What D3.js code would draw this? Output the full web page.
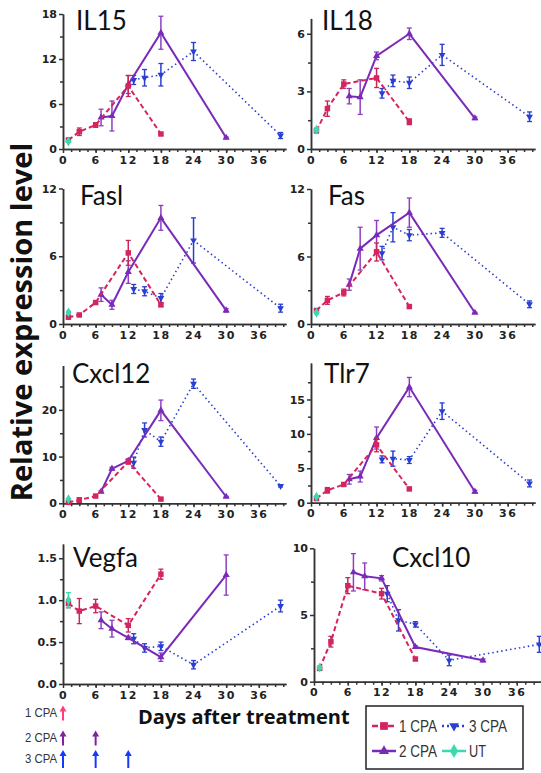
<!DOCTYPE html>
<html>
<head>
<meta charset="utf-8">
<script src="https://cdn.jsdelivr.net/npm/d3@7"></script>
<style>
    body { margin: 0; background: #fff; }
    .axis path, .axis line { stroke: #333; stroke-width: 1.5; }
    .axis text { font-family: "DejaVu Sans", sans-serif; font-weight: bold; font-size: 11px; fill: #222; }
    .xaxis text { letter-spacing: 1.5px; }
    .minor text { display: none; }
    .gene { font-family: Lato, sans-serif; font-size: 26px; fill: #111; }
    .axisLabel { font-family: "Open Sans", sans-serif; font-weight: bold; fill: #111; }
    .narrow { font-family: "Liberation Sans", sans-serif; fill: #333; }
</style>
</head>
<body>
<div id="chart"></div>
<script>
// sampling days of each group
const days1CPA = [1, 3, 6, 12, 18];
const days2CPA = [7, 9, 12, 18, 30];
const days3CPA = [13, 15, 18, 24, 40];
const daysUT = [1];
// days the CPA doses were given
const dose1CPA = [0];
const dose2CPA = [0, 6];
const dose3CPA = [0, 6, 12];

const genes = ["IL15", "IL18", "Fasl", "Fas", "Cxcl12", "Tlr7", "Vegfa", "Cxcl10"];

// [mean, error] per sampling day
const il15_1 = [[1.2, 0.2], [2.3, 0.5], [3.2, 0.3], [8.4, 1.4], [2.0, 0.15]];
const il15_2 = [[4.2, 1.1], [4.4, 2.0], [8.6, 1.2], [15.5, 2.2], [1.5, 0.1]];
const il15_3 = [[9.2, 0.6], [9.5, 1.1], [9.9, 1.5], [13.0, 1.2], [1.8, 0.4]];
const il15_ut = [[1.0, 0.1]];

const il18_1 = [[0.95, 0.1], [2.1, 0.4], [3.38, 0.22], [3.7, 0.5], [1.42, 0.15]];
const il18_2 = [[2.75, 0.4], [2.7, 0.9], [4.85, 0.2], [6.0, 0.3], [1.6, 0.07]];
const il18_3 = [[2.9, 0.25], [3.55, 0.3], [3.45, 0.3], [4.9, 0.55], [1.68, 0.25]];
const il18_ut = [[1.0, 0.1]];

const fasl_1 = [[0.6, 0.05], [0.8, 0.05], [1.9, 0.1], [6.3, 1.1], [1.7, 0.15]];
const fasl_2 = [[2.6, 0.6], [1.7, 0.4], [4.6, 1.0], [9.4, 1.1], [1.2, 0.15]];
const fasl_3 = [[3.1, 0.4], [2.9, 0.4], [2.3, 0.4], [7.4, 2.0], [1.4, 0.35]];
const fasl_ut = [[1.03, 0.1]];

const fas_1 = [[1.2, 0.1], [2.1, 0.35], [2.8, 0.3], [6.4, 0.8], [1.55, 0.1]];
const fas_2 = [[3.5, 0.5], [6.7, 1.9], [7.9, 1.3], [9.9, 1.3], [1.0, 0.05]];
const fas_3 = [[6.3, 0.6], [8.6, 1.3], [7.9, 0.5], [8.1, 0.4], [1.75, 0.3]];
const fas_ut = [[1.0, 0.1]];

const cxcl12_1 = [[0.2, 0.1], [0.7, 0.5], [1.55, 0.2], [8.9, 0.5], [0.9, 0.2]];
const cxcl12_2 = [[2.5, 0.2], [7.4, 0.3], [9.1, 0.4], [19.9, 2.2], [1.4, 0.1]];
const cxcl12_3 = [[8.7, 1.2], [15.7, 1.5], [13.2, 1.0], [25.6, 1.0], [3.7, 0.2]];
const cxcl12_ut = [[0.9, 0.1]];

const tlr7_1 = [[0.6, 0.1], [1.8, 0.4], [2.65, 0.2], [8.4, 1.0], [2.0, 0.2]];
const tlr7_2 = [[3.4, 0.7], [3.8, 0.8], [9.4, 1.6], [16.8, 1.4], [1.6, 0.2]];
const tlr7_3 = [[6.3, 0.5], [6.4, 1.1], [6.2, 0.5], [13.3, 1.2], [2.8, 0.5]];
const tlr7_ut = [[0.87, 0.1]];

const vegfa_1 = [[0.96, 0.05], [0.87, 0.15], [0.93, 0.08], [0.7, 0.08], [1.31, 0.06]];
const vegfa_2 = [[0.76, 0.1], [0.66, 0.1], [0.55, 0.02], [0.32, 0.05], [1.3, 0.24]];
const vegfa_3 = [[0.54, 0.06], [0.43, 0.05], [0.45, 0.05], [0.23, 0.05], [0.93, 0.07]];
const vegfa_ut = [[1.0, 0.09]];

const cxcl10_1 = [[1.0, 0.05], [3.0, 0.4], [7.2, 0.6], [6.6, 0.4], [1.7, 0.1]];
const cxcl10_2 = [[8.2, 1.4], [7.9, 1.0], [7.75, 0.2], [2.6, 0.1], [1.6, 0.1]];
const cxcl10_3 = [[6.6, 0.6], [4.6, 0.8], [4.3, 0.2], [1.6, 0.4], [2.8, 0.6]];
const cxcl10_ut = [[1.05, 0.1]];

const geneData = {
    IL15: [il15_1, il15_2, il15_3, il15_ut],
    IL18: [il18_1, il18_2, il18_3, il18_ut],
    Fasl: [fasl_1, fasl_2, fasl_3, fasl_ut],
    Fas: [fas_1, fas_2, fas_3, fas_ut],
    Cxcl12: [cxcl12_1, cxcl12_2, cxcl12_3, cxcl12_ut],
    Tlr7: [tlr7_1, tlr7_2, tlr7_3, tlr7_ut],
    Vegfa: [vegfa_1, vegfa_2, vegfa_3, vegfa_ut],
    Cxcl10: [cxcl10_1, cxcl10_2, cxcl10_3, cxcl10_ut]
};

// y axis settings (max, major ticks, minor ticks)
const yMax = [18, 6.8, 12, 12, 29.5, 20.3, 1.67, 10];
const yMajor = [[0, 6, 12, 18], [0, 3, 6], [0, 6, 12], [0, 6, 12], [0, 10, 20], [0, 5, 10, 15], [0, 0.5, 1, 1.5], [0, 5, 10]];
const yMinor = [[3, 9, 15], [1.5, 4.5], [3, 9], [3, 9], [5, 15, 25], [2.5, 7.5, 12.5, 17.5], [0.25, 0.75, 1.25], [2.5, 7.5]];
const xMajor = [0, 6, 12, 18, 24, 30, 36];

// panel placement on the page
const panels = [
    { x0: 63, x1: 286, yb: 149, yt: 14, tx: 76, ty: 30 },
    { x0: 311, x1: 535, yb: 149, yt: 18.4, tx: 322, ty: 30 },
    { x0: 63, x1: 286, yb: 324, yt: 188.5, tx: 80, ty: 205 },
    { x0: 311, x1: 535, yb: 324, yt: 189, tx: 328, ty: 205 },
    { x0: 63, x1: 286, yb: 503.3, yt: 365.5, tx: 72, ty: 383 },
    { x0: 311, x1: 535, yb: 502.7, yt: 363, tx: 324, ty: 383 },
    { x0: 63, x1: 286, yb: 684, yt: 544, tx: 73, ty: 567 },
    { x0: 314, x1: 541, yb: 681.7, yt: 548.3, tx: 392, ty: 567 }
];

const width = 541;
const height = 773;

const svg = d3.select("#chart")
    .append("svg")
    .attr("width", width)
    .attr("height", height);

// style of each group: color, dash, marker
const groups = [
    { name: "1 CPA", days: days1CPA, color: "#d6245e", bar: "#c4285a", dash: "5,3", width: 2, symbol: d3.symbolSquare, size: 30, rot: 0 },
    { name: "2 CPA", days: days2CPA, color: "#7a2ab8", bar: "#8d3fc0", dash: null, width: 2, symbol: d3.symbolTriangle, size: 22, rot: 0 },
    { name: "3 CPA", days: days3CPA, color: "#2a3fd0", bar: "#2a3fd0", dash: "1.5,3", width: 1.6, symbol: d3.symbolTriangle, size: 20, rot: 180 },
    { name: "UT", days: daysUT, color: "#3ad9b0", bar: "#3ad9b0", dash: null, width: 2, symbol: d3.symbolDiamond, size: 28, rot: 0 }
];
const drawOrder = [2, 1, 0, 3];

genes.forEach(function (gene, gi) {
    const p = panels[gi];
    const g = svg.append("g");

    const xScale = d3.scaleLinear()
        .domain([0, p.x1 === 541 ? 40.3 : 41])
        .range([p.x0, p.x1]);

    const yScale = d3.scaleLinear()
        .domain([0, yMax[gi]])
        .range([p.yb, p.yt]);

    const fmt = gene === "Vegfa" ? d3.format(".1f") : d3.format("d");

    // minor ticks first
    g.append("g").attr("class", "axis minor")
        .attr("transform", `translate(0,${p.yb})`)
        .call(d3.axisBottom(xScale).tickValues(d3.range(1.5, 41, 1.5)).tickSize(3).tickSizeOuter(0));
    g.append("g").attr("class", "axis minor")
        .attr("transform", `translate(${p.x0},0)`)
        .call(d3.axisLeft(yScale).tickValues(yMinor[gi]).tickSize(3).tickSizeOuter(0));

    g.append("g").attr("class", "axis xaxis")
        .attr("transform", `translate(0,${p.yb})`)
        .call(d3.axisBottom(xScale).tickValues(xMajor).tickSize(4).tickSizeOuter(0).tickPadding(3));
    g.append("g").attr("class", "axis")
        .attr("transform", `translate(${p.x0},0)`)
        .call(d3.axisLeft(yScale).tickValues(yMajor[gi]).tickFormat(fmt).tickSize(4).tickSizeOuter(0).tickPadding(2));

    g.append("text")
        .attr("class", "gene")
        .attr("x", p.tx)
        .attr("y", p.ty)
        .text(gene);

    drawOrder.forEach(function (k) {
        const grp = groups[k];
        const vals = geneData[gene][k].map((v, i) => ({ day: grp.days[i], mean: v[0], err: v[1] }));

        const line = d3.line()
            .x(d => xScale(d.day))
            .y(d => yScale(d.mean));

        g.append("path")
            .datum(vals)
            .attr("d", line)
            .attr("fill", "none")
            .attr("stroke", grp.color)
            .attr("stroke-width", grp.width)
            .attr("stroke-dasharray", grp.dash);

        // error bars
        const bars = g.selectAll(null).data(vals).enter().append("g");
        bars.append("line")
            .attr("x1", d => xScale(d.day)).attr("x2", d => xScale(d.day))
            .attr("y1", d => yScale(d.mean - d.err)).attr("y2", d => yScale(d.mean + d.err))
            .attr("stroke", grp.bar).attr("stroke-width", 1.5);
        [-1, 1].forEach(function (s) {
            bars.append("line")
                .attr("x1", d => xScale(d.day) - 2.5).attr("x2", d => xScale(d.day) + 2.5)
                .attr("y1", d => yScale(d.mean + s * d.err)).attr("y2", d => yScale(d.mean + s * d.err))
                .attr("stroke", grp.bar).attr("stroke-width", 1.3);
        });

        // markers
        g.selectAll(null).data(vals).enter().append("path")
            .attr("d", d3.symbol().type(grp.symbol).size(grp.size))
            .attr("transform", d => `translate(${xScale(d.day)},${yScale(d.mean)}) rotate(${grp.rot})`)
            .attr("fill", grp.color);
    });
});

// axis titles
svg.append("text")
    .attr("class", "axisLabel")
    .attr("transform", "rotate(-90)")
    .attr("x", -322)
    .attr("y", 32)
    .attr("text-anchor", "middle")
    .attr("font-size", 29)
    .text("Relative expression level");

svg.append("text")
    .attr("class", "axisLabel")
    .attr("x", 138)
    .attr("y", 724)
    .attr("font-size", 20)
    .text("Days after treatment");

// dosing schedule arrows, placed on the day scale of the left panels
const doseScale = d3.scaleLinear().domain([0, 41]).range([63, 286]);
const doses = [
    { label: "1 CPA", days: dose1CPA, color: "#ff3c80", y: 713, len: 15 },
    { label: "2 CPA", days: dose2CPA, color: "#84209c", y: 738, len: 15 },
    { label: "3 CPA", days: dose3CPA, color: "#1638ff", y: 759, len: 18 }
];
doses.forEach(function (d) {
    svg.append("text")
        .attr("class", "narrow")
        .attr("x", 25)
        .attr("y", d.y + 4)
        .attr("font-size", 13)
        .attr("textLength", 32)
        .attr("lengthAdjust", "spacingAndGlyphs")
        .text(d.label);
    d.days.forEach(function (day) {
        const ax = doseScale(day);
        const top = d.y - d.len / 2;
        svg.append("line")
            .attr("x1", ax).attr("x2", ax)
            .attr("y1", top + 4).attr("y2", top + d.len)
            .attr("stroke", d.color).attr("stroke-width", 2);
        svg.append("path")
            .attr("d", `M${ax - 3.5},${top + 6} L${ax},${top} L${ax + 3.5},${top + 6} Z`)
            .attr("fill", d.color);
    });
});

// legend
const legend = svg.append("g");
legend.append("rect")
    .attr("x", 366).attr("y", 706)
    .attr("width", 157).attr("height", 63)
    .attr("fill", "#fff")
    .attr("stroke", "#222")
    .attr("stroke-width", 1.5);
const legendPos = [[372, 726], [372, 751], [442, 726], [442, 751]];
groups.forEach(function (grp, i) {
    const lx = legendPos[i][0];
    const ly = legendPos[i][1];
    legend.append("line")
        .attr("x1", lx).attr("x2", lx + 24)
        .attr("y1", ly).attr("y2", ly)
        .attr("stroke", grp.color)
        .attr("stroke-width", 2.5)
        .attr("stroke-dasharray", grp.dash ? (i === 2 ? "2,3" : "6,2") : null);
    legend.append("path")
        .attr("d", d3.symbol().type(grp.symbol).size(grp.size * 2))
        .attr("transform", `translate(${lx + 12},${ly}) rotate(${grp.rot})`)
        .attr("fill", grp.color);
    legend.append("text")
        .attr("class", "narrow")
        .attr("x", lx + 27)
        .attr("y", ly + 6)
        .attr("font-size", 16)
        .attr("textLength", grp.name === "UT" ? 17 : 38)
        .attr("lengthAdjust", "spacingAndGlyphs")
        .text(grp.name);
});
</script>
</body>
</html>
